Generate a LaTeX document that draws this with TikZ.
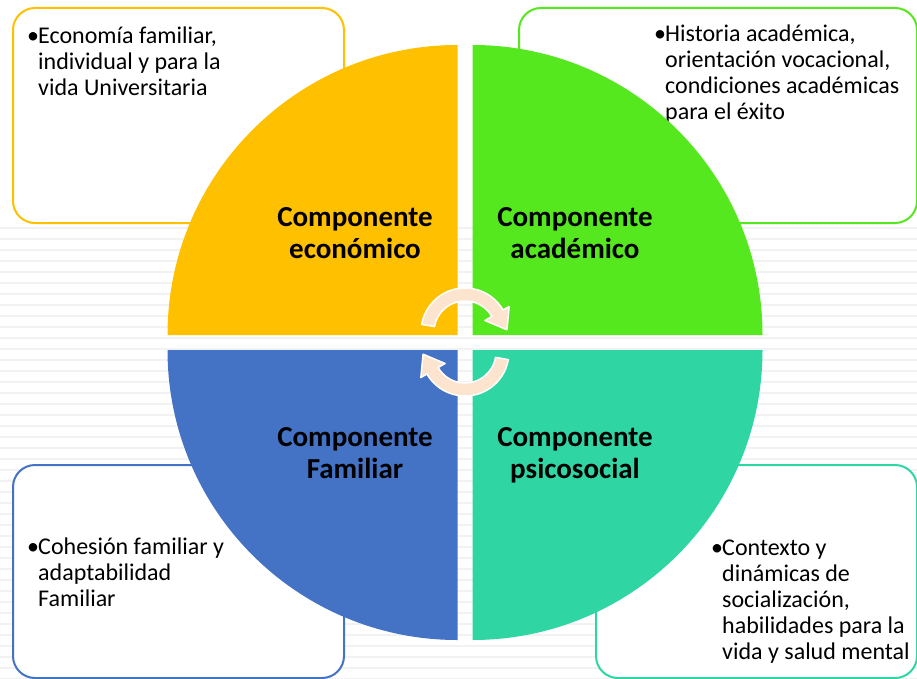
\documentclass[tikz,border=0pt]{standalone}
\usepackage{fontspec}
\setmainfont{Carlito}
\usepackage{xcolor}
\usepackage{tikz}
\usetikzlibrary{positioning}

\definecolor{ecoYellow}{RGB}{255,192,0}
\definecolor{acaGreen}{RGB}{86,232,30}
\definecolor{psiTeal}{RGB}{47,214,164}
\definecolor{famBlue}{RGB}{68,114,196}
\definecolor{arrowPeach}{RGB}{252,228,206}

\newcommand{\blt}{\makebox[11pt][l]{\textbullet}}

\begin{document}
\begin{tikzpicture}[x=1pt,y=-1pt,
	infobox/.style={draw, line width=2pt, fill=white, rounded corners=22pt, inner sep=0pt, anchor=north west},
	bodytext/.style={font=\fontsize{24}{26}\selectfont, inner sep=0pt, anchor=base west},
	labeltext/.style={font=\bfseries\fontsize{29}{32}\selectfont, align=center, inner sep=0pt, anchor=base},
	cyclearrow/.style={fill=arrowPeach, draw=white, line width=1.5pt, line join=round},
	stripe/.style={black!5, line width=1.6pt}]
    \useasboundingbox (0,0) rectangle (917,679);
    % faint striped background
    \foreach \y in {228,239,...,679}
      \draw[stripe] (0,\y) -- (917,\y);

    % corner boxes
    \node[infobox, draw=ecoYellow, minimum width=331pt, minimum height=215pt] (ecobox) at (12,7) {};
    \node[infobox, draw=acaGreen, minimum width=398pt, minimum height=215pt] (acabox) at (518,7) {};
    \node[infobox, draw=famBlue, minimum width=331pt, minimum height=213pt] (fambox) at (12,464) {};
    \node[infobox, draw=psiTeal, minimum width=321pt, minimum height=213pt] (psibox) at (595,464) {};

    \node[bodytext] (ecotext) at (27,44) {\begin{tabular}[t]{@{}l@{}l@{}}
      \blt & Economía familiar,\\ & individual y para la\\ & vida Universitaria\end{tabular}};
    \node[bodytext] (acatext) at (654,42) {\begin{tabular}[t]{@{}l@{}l@{}}
      \blt & Historia académica,\\ & orientación vocacional,\\ & condiciones académicas\\ & para el éxito\end{tabular}};
    \node[bodytext] (famtext) at (27,554) {\begin{tabular}[t]{@{}l@{}l@{}}
      \blt & Cohesión familiar y\\ & adaptabilidad\\ & Familiar\end{tabular}};
    \node[bodytext] (psitext) at (711,555) {\begin{tabular}[t]{@{}l@{}l@{}}
      \blt & Contexto y\\ & dinámicas de\\ & socialización,\\ & habilidades para la\\ & vida y salud mental\end{tabular}};

    % the four quarters of the circle
    \fill[ecoYellow] (457.5,335) coordinate (ecoc) -- +(180:290) arc[start angle=180, end angle=270, radius=290] -- cycle;
    \fill[acaGreen] (472.5,335) coordinate (acac) -- +(270:290) arc[start angle=270, end angle=360, radius=290] -- cycle;
    \fill[psiTeal] (472.5,350) coordinate (psic) -- +(0:290) arc[start angle=0, end angle=90, radius=290] -- cycle;
    \fill[famBlue] (457.5,350) coordinate (famc) -- +(90:290) arc[start angle=90, end angle=180, radius=290] -- cycle;

    % cycle arrows in the middle
    \begin{scope}[shift={(465,332)}]
      \filldraw[cyclearrow] (190:44) arc[start angle=190, end angle=330, radius=44] -- (330:51)
        -- (357:42) -- (330:23) -- (330:31) arc[start angle=330, end angle=190, radius=31] -- cycle;
    \end{scope}
    \begin{scope}[shift={(465,352)}, rotate=180]
      \filldraw[cyclearrow] (190:44) arc[start angle=190, end angle=330, radius=44] -- (330:51)
        -- (357:42) -- (330:23) -- (330:31) arc[start angle=330, end angle=190, radius=31] -- cycle;
    \end{scope}

    \node[labeltext] (eco) at (355,258) {Componente\\económico};
    \node[labeltext] (aca) at (575,258) {Componente\\académico};
    \node[labeltext] (fam) at (355,478) {Componente\\Familiar};
    \node[labeltext] (psi) at (575,478) {Componente\\psicosocial};
\end{tikzpicture}
\end{document}
